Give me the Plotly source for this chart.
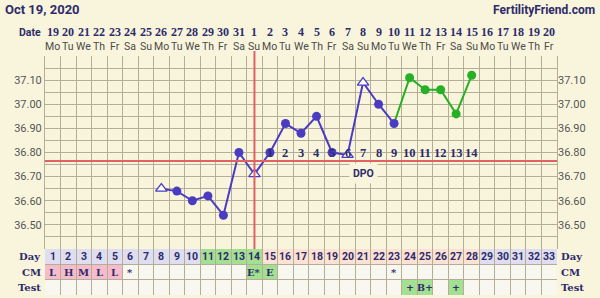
import plotly.graph_objects as go

# ---------------- data ----------------
title_text = "Oct 19, 2020"
site_text = "FertilityFriend.com"

cycle_days = list(range(1, 34))
date_labels = ["19", "20", "21", "22", "23", "24", "25", "26", "27", "28", "29", "30", "31",
               "1", "2", "3", "4", "5", "6", "7", "8", "9", "10", "11", "12", "13", "14",
               "15", "16", "17", "18", "19", "20"]
weekday_labels = ["Mo", "Tu", "We", "Th", "Fr", "Sa", "Su", "Mo", "Tu", "We", "Th", "Fr", "Sa",
                  "Su", "Mo", "Tu", "We", "Th", "Fr", "Sa", "Su", "Mo", "Tu", "We", "Th", "Fr",
                  "Sa", "Su", "Mo", "Tu", "We", "Th", "Fr"]

temp_days = [8, 9, 10, 11, 12, 13, 14, 15, 16, 17, 18, 19, 20, 21, 22, 23, 24, 25, 26, 27, 28]
temps = [36.65, 36.64, 36.60, 36.62, 36.54, 36.80, 36.71, 36.80, 36.92, 36.88, 36.95, 36.80,
         36.79, 37.09, 37.00, 36.92, 37.11, 37.06, 37.06, 36.96, 37.12]
open_days = [8, 14, 20, 21]
green_from_day = 23

ovulation_day = 14
coverline = 36.765

dpo_days = [15, 16, 17, 18, 19, 20, 21, 22, 23, 24, 25, 26, 27, 28]
dpo_labels = ["1", "2", "3", "4", "5", "6", "7", "8", "9", "10", "11", "12", "13", "14"]

y_tick_vals = [36.5, 36.6, 36.7, 36.8, 36.9, 37.0, 37.1]
y_tick_text = ["36.50", "36.60", "36.70", "36.80", "36.90", "37.00", "37.10"]

fertile_days = [11, 12, 13, 14]
luteal_days = [15, 16, 17, 18, 19, 20, 21, 22, 23, 24, 25, 26, 27, 28]

cm_days = [1, 2, 3, 4, 5, 6, 14, 15, 23]
cm_labels = ["L", "H", "M", "L", "L", "*", "E*", "E", "*"]

test_days = [24, 25, 27]
test_labels = ["+", "B+", "+"]

# ---------------- styles ----------------
BG = "#f9f5dc"
GRID = "#b5ad95"
NAVY = "#2d2b6b"
BLUE = "#4a3cc2"
GREEN = "#25b025"
RED = "#e06262"
LAV = "#dedef0"
FGREEN = "#a4e092"
PEACH = "#fde2d3"
PINK = "#f6bccb"
CELL = "#f8f8f0"
SERIF = "DejaVu Serif"
NSERIF = "Liberation Serif"
SANS = "Roboto"

W, H = 600, 298
ML, MR, MT, MB = 45, 43, 56, 3
PW = W - ML - MR
PH = H - MT - MB
TEMP_BOTTOM_PX = 249
split = (H - MB - TEMP_BOTTOM_PX) / PH


def px(x):
    return (x - ML) / PW


def py(y):
    return (H - MB - y) / PH


fig = go.Figure()

# lines
blue_x = [d for d in temp_days if d <= green_from_day]
blue_y = [t for d, t in zip(temp_days, temps) if d <= green_from_day]
green_x = [d for d in temp_days if d >= green_from_day]
green_y = [t for d, t in zip(temp_days, temps) if d >= green_from_day]
fig.add_trace(go.Scatter(x=blue_x, y=blue_y, mode="lines", line=dict(color=BLUE, width=2),
                         hoverinfo="skip", showlegend=False))
fig.add_trace(go.Scatter(x=green_x, y=green_y, mode="lines", line=dict(color=GREEN, width=2),
                         hoverinfo="skip", showlegend=False))

# markers
fx = [d for d in temp_days if d not in open_days and d <= green_from_day]
fy = [t for d, t in zip(temp_days, temps) if d not in open_days and d <= green_from_day]
fig.add_trace(go.Scatter(x=fx, y=fy, mode="markers",
                         marker=dict(color=BLUE, size=9, symbol="circle"),
                         hoverinfo="skip", showlegend=False))
ox = [d for d in temp_days if d in open_days]
oy = [t for d, t in zip(temp_days, temps) if d in open_days]
fig.add_trace(go.Scatter(x=ox, y=oy, mode="markers",
                         marker=dict(color="white", size=10, symbol="triangle-up",
                                     line=dict(color=BLUE, width=1.3)),
                         hoverinfo="skip", showlegend=False))
gx = [d for d in temp_days if d > green_from_day]
gy = [t for d, t in zip(temp_days, temps) if d > green_from_day]
fig.add_trace(go.Scatter(x=gx, y=gy, mode="markers",
                         marker=dict(color=GREEN, size=9, symbol="circle"),
                         hoverinfo="skip", showlegend=False))

# dummy traces to create table subplot and right axis
fig.add_trace(go.Scatter(x=[1], y=[0.5], xaxis="x", yaxis="y2", mode="markers",
                         marker=dict(opacity=0), hoverinfo="skip", showlegend=False))
fig.add_trace(go.Scatter(x=[1], y=[36.5], xaxis="x", yaxis="y3", mode="markers",
                         marker=dict(opacity=0), hoverinfo="skip", showlegend=False))

shapes = []
# table cells
for d in cycle_days:
    if d in fertile_days:
        c = FGREEN
    elif d in luteal_days:
        c = PEACH
    else:
        c = LAV
    shapes.append(dict(type="rect", xref="x", yref="y2", x0=d - 0.5, x1=d + 0.5, y0=0, y1=1,
                       fillcolor=c, line=dict(width=0), layer="below"))
shapes.append(dict(type="rect", xref="x", yref="y2", x0=0.5, x1=33.5, y0=1, y1=3,
                   fillcolor=CELL, line=dict(width=0), layer="below"))
for d, lab in zip(cm_days, cm_labels):
    if lab.startswith("E"):
        c = FGREEN
    elif lab in ("L", "H", "M"):
        c = PINK
    else:
        c = None
    if c:
        shapes.append(dict(type="rect", xref="x", yref="y2", x0=d - 0.5, x1=d + 0.5, y0=1, y1=2,
                           fillcolor=c, line=dict(width=0), layer="below"))
for d in test_days:
    shapes.append(dict(type="rect", xref="x", yref="y2", x0=d - 0.5, x1=d + 0.5, y0=2, y1=3,
                       fillcolor=FGREEN, line=dict(width=0), layer="below"))

# coverline and ovulation line
shapes.append(dict(type="line", xref="x", yref="y", x0=0.5, x1=33.5, y0=coverline, y1=coverline,
                   line=dict(color=RED, width=2), layer="above"))
shapes.append(dict(type="line", xref="x", yref="paper", x0=ovulation_day, x1=ovulation_day,
                   y0=split, y1=py(51), line=dict(color=RED, width=2), layer="above"))

annotations = []
annotations.append(dict(text="<b>" + title_text + "</b>", xref="paper", yref="paper",
                        x=px(3), y=py(9), xanchor="left", yanchor="middle", showarrow=False,
                        font=dict(family=SANS, size=13, color=NAVY)))
annotations.append(dict(text="<b>" + site_text + "</b>", xref="paper", yref="paper",
                        x=px(597), y=py(10), xanchor="right", yanchor="middle", showarrow=False,
                        font=dict(family=SANS, size=12, color=NAVY)))
annotations.append(dict(text="<b>Date</b>", xref="paper", yref="paper",
                        x=px(43), y=py(33), xanchor="right", yanchor="middle", showarrow=False,
                        font=dict(family=SANS, size=10.5, color=NAVY)))
for d, dl, wl in zip(cycle_days, date_labels, weekday_labels):
    annotations.append(dict(text="<b>" + dl + "</b>", xref="x", yref="paper", x=d, y=py(32),
                            xanchor="center", yanchor="middle", showarrow=False,
                            font=dict(family=NSERIF, size=12, color=NAVY)))
    annotations.append(dict(text=wl, xref="x", yref="paper", x=d, y=py(46),
                            xanchor="center", yanchor="middle", showarrow=False,
                            font=dict(family=SANS, size=10.5, color="#4a4a4a")))
    annotations.append(dict(text="<b>" + str(d) + "</b>", xref="x", yref="y2", x=d, y=0.5,
                            xanchor="center", yanchor="middle", showarrow=False,
                            font=dict(family=SANS, size=10.5, color=NAVY)))
for d, lab in zip(cm_days, cm_labels):
    annotations.append(dict(text="<b>" + lab + "</b>", xref="x", yref="y2", x=d, y=1.5,
                            xanchor="center", yanchor="middle", showarrow=False,
                            font=dict(family=SERIF, size=10, color=NAVY)))
for d, lab in zip(test_days, test_labels):
    annotations.append(dict(text="<b>" + lab + "</b>", xref="x", yref="y2", x=d, y=2.5,
                            xanchor="center", yanchor="middle", showarrow=False,
                            font=dict(family=SERIF, size=9.5, color=NAVY)))
for d, lab in zip(dpo_days, dpo_labels):
    annotations.append(dict(text="<b>" + lab + "</b>", xref="x", yref="y", x=d, y=36.80,
                            xanchor="center", yanchor="middle", showarrow=False,
                            font=dict(family=NSERIF, size=12.5, color=NAVY)))
annotations.append(dict(text="<b>DPO</b>", xref="x", yref="y", x=21, y=36.714,
                        xanchor="center", yanchor="middle", showarrow=False, bgcolor=BG,
                        borderpad=3, font=dict(family=SANS, size=10.5, color=NAVY)))
for i, lab in enumerate(["Day", "CM", "Test"]):
    annotations.append(dict(text="<b>" + lab + "</b>", xref="paper", yref="y2", x=px(43), y=i + 0.5,
                            xanchor="right", yanchor="middle", showarrow=False,
                            font=dict(family=SERIF, size=10, color=NAVY)))
    annotations.append(dict(text="<b>" + lab + "</b>", xref="paper", yref="y2", x=px(559), y=i + 0.5,
                            xanchor="left", yanchor="middle", showarrow=False,
                            font=dict(family=SERIF, size=10, color=NAVY)))

tick_font = dict(family=SANS, size=11, color="#555555")
fig.update_layout(
    width=W, height=H,
    margin=dict(l=ML, r=MR, t=MT, b=MB, pad=0),
    paper_bgcolor=BG, plot_bgcolor=BG,
    showlegend=False,
    shapes=shapes, annotations=annotations,
    xaxis=dict(range=[0.5, 33.5], tickvals=[d - 0.5 for d in cycle_days] + [33.5],
               showticklabels=False, ticks="", showgrid=True, gridcolor=GRID, gridwidth=1,
               zeroline=False, showline=False, anchor="y2", fixedrange=True),
    yaxis=dict(domain=[split, 1], range=[36.40, 37.20], tickvals=y_tick_vals, ticktext=y_tick_text,
               showgrid=True, gridcolor=GRID, gridwidth=1, zeroline=False, ticks="",
               minor=dict(dtick=0.05, tick0=36.40, showgrid=True, gridcolor=GRID, gridwidth=1),
               tickfont=tick_font, showline=True, linecolor=GRID, mirror=True, fixedrange=True,
               anchor="x"),
    yaxis3=dict(overlaying="y", side="right", anchor="x", range=[36.40, 37.20],
                tickvals=y_tick_vals, ticktext=y_tick_text, showgrid=False, zeroline=False,
                ticks="", tickfont=tick_font, fixedrange=True),
    yaxis2=dict(domain=[0, split], range=[3, 0], tickvals=[0, 1, 2, 3], showticklabels=False,
                ticks="", showgrid=True, gridcolor=GRID, gridwidth=1, zeroline=False,
                showline=False, fixedrange=True, anchor="x"),
)

fig.write_html("out.html")
